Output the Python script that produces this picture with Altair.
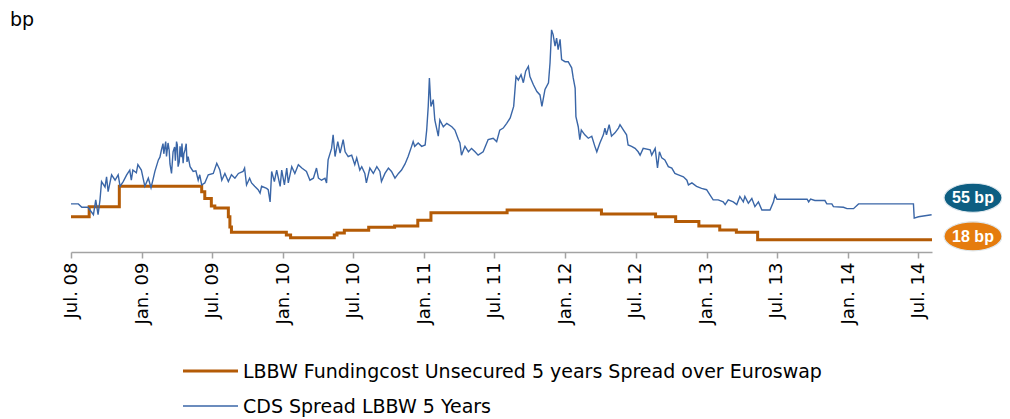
import altair as alt
import pandas as pd

# ---------------- data ----------------
cds_dates = [
    "2008-07-01", "2008-07-20", "2008-07-29", "2008-08-14", "2008-08-19", "2008-08-28", "2008-09-03", "2008-09-09",
    "2008-09-14", "2008-09-18", "2008-09-27", "2008-10-01", "2008-10-05", "2008-10-14", "2008-10-23", "2008-10-31",
    "2008-11-05", "2008-11-13", "2008-11-22", "2008-11-30", "2008-12-04", "2008-12-08", "2008-12-17", "2008-12-21",
    "2008-12-30", "2009-01-08", "2009-01-17", "2009-01-24", "2009-01-30", "2009-02-03", "2009-02-12", "2009-02-16",
    "2009-02-20", "2009-02-24", "2009-02-26", "2009-03-01", "2009-03-03", "2009-03-05", "2009-03-09", "2009-03-12",
    "2009-03-14", "2009-03-18", "2009-03-22", "2009-03-26", "2009-03-28", "2009-03-31", "2009-04-02", "2009-04-04",
    "2009-04-07", "2009-04-09", "2009-04-12", "2009-04-14", "2009-04-17", "2009-04-19", "2009-04-22", "2009-04-25",
    "2009-04-27", "2009-04-30", "2009-05-05", "2009-05-13", "2009-05-20", "2009-05-26", "2009-05-30",
    "2009-06-04", "2009-06-12", "2009-06-21", "2009-07-04", "2009-07-13", "2009-07-21", "2009-07-26", "2009-08-03",
    "2009-08-12", "2009-08-20", "2009-08-29", "2009-09-07", "2009-09-19", "2009-09-23", "2009-09-28", "2009-10-06",
    "2009-10-11", "2009-10-19", "2009-10-28", "2009-11-02", "2009-11-06", "2009-11-19", "2009-11-23", "2009-11-28",
    "2009-12-02", "2009-12-09", "2009-12-15", "2009-12-24", "2009-12-28", "2010-01-04", "2010-01-10", "2010-01-14",
    "2010-01-23", "2010-01-31", "2010-02-09", "2010-02-18", "2010-03-02", "2010-03-11", "2010-03-20", "2010-03-28",
    "2010-04-02", "2010-04-10", "2010-04-19", "2010-04-23", "2010-04-27", "2010-05-06", "2010-05-10", "2010-05-15",
    "2010-05-22", "2010-05-28", "2010-06-05", "2010-06-10", "2010-06-18", "2010-06-27", "2010-07-05", "2010-07-10",
    "2010-07-18", "2010-07-23", "2010-07-31", "2010-08-04", "2010-08-13", "2010-08-22", "2010-08-31", "2010-09-08",
    "2010-09-12", "2010-09-21", "2010-09-30", "2010-10-08", "2010-10-17", "2010-10-26", "2010-11-03", "2010-11-12",
    "2010-11-20", "2010-11-29", "2010-12-03", "2010-12-07", "2010-12-16", "2010-12-25", "2011-01-03", "2011-01-07",
    "2011-01-11", "2011-01-14", "2011-01-18", "2011-01-24", "2011-01-28", "2011-02-06", "2011-02-10", "2011-02-19",
    "2011-02-28", "2011-03-13", "2011-03-21", "2011-03-30", "2011-04-03", "2011-04-07", "2011-04-16", "2011-04-25",
    "2011-05-03", "2011-05-12", "2011-05-20", "2011-06-02", "2011-06-15", "2011-06-28", "2011-07-07", "2011-07-15",
    "2011-07-24", "2011-08-02", "2011-08-11", "2011-08-20", "2011-08-26", "2011-09-01", "2011-09-08", "2011-09-14",
    "2011-09-20", "2011-09-27", "2011-10-01", "2011-10-10", "2011-10-19", "2011-10-27", "2011-11-01", "2011-11-09",
    "2011-11-18", "2011-11-22", "2011-11-26", "2011-11-30", "2011-12-05", "2011-12-09", "2011-12-13", "2011-12-18",
    "2011-12-22", "2011-12-31", "2012-01-08", "2012-01-17", "2012-01-21", "2012-01-26", "2012-01-28", "2012-02-03",
    "2012-02-07", "2012-02-11", "2012-02-20", "2012-02-29", "2012-03-09", "2012-03-17", "2012-03-22", "2012-03-30",
    "2012-04-08", "2012-04-12", "2012-04-16", "2012-04-23", "2012-04-29", "2012-05-08", "2012-05-17", "2012-05-21",
    "2012-05-30", "2012-06-07", "2012-06-11", "2012-06-20", "2012-06-29", "2012-07-07", "2012-07-12", "2012-07-20",
    "2012-08-07", "2012-08-11", "2012-08-20", "2012-08-26", "2012-08-31", "2012-09-06", "2012-09-14", "2012-09-23",
    "2012-10-02", "2012-10-10", "2012-10-19", "2012-11-01", "2012-11-10", "2012-11-14", "2012-11-23", "2012-12-05",
    "2012-12-18", "2012-12-31", "2013-01-09", "2013-01-17", "2013-01-30", "2013-02-12", "2013-02-17", "2013-02-25",
    "2013-03-10", "2013-03-19", "2013-03-27", "2013-04-05", "2013-04-09", "2013-04-18", "2013-04-27", "2013-05-05",
    "2013-05-14", "2013-05-23", "2013-06-05", "2013-06-13", "2013-06-22", "2013-06-26", "2013-07-01", "2013-09-17",
    "2013-09-21", "2013-09-26", "2013-10-07", "2013-11-02", "2013-11-07", "2013-11-20", "2013-11-24", "2013-12-20",
    "2013-12-29", "2014-01-15", "2014-01-28", "2014-06-19", "2014-06-21", "2014-07-02", "2014-08-05",
]
cds_values = [
    71, 71, 66, 66, 62, 55, 77, 55,
    77, 104, 96, 111, 89, 114, 106, 114,
    97, 104, 114, 121, 106, 121, 117, 129,
    121, 97, 109, 95, 109, 119, 136, 140,
    151, 160, 145, 156, 163, 141, 161, 150,
    130, 116, 148, 155, 135, 163, 158, 126,
    133, 156, 140, 160, 131, 145, 151, 160,
    133, 141, 126, 119, 120, 106, 114,
    99, 102, 114, 116, 131, 121, 106, 116,
    104, 114, 109, 116, 119, 124, 99, 109,
    102, 97, 92, 87, 97, 94, 92, 74,
    119, 104, 121, 97, 121, 99, 124, 102,
    126, 116, 129, 124, 119, 106, 109, 124,
    109, 106, 109, 102, 136, 153, 173, 141,
    163, 146, 166, 148, 141, 143, 129, 139,
    121, 126, 116, 102, 124, 116, 126, 119,
    104, 116, 124, 119, 109, 116, 121, 130,
    141, 156, 163, 156, 161, 156, 158, 180,
    215, 257, 215, 225, 195, 171, 195, 185,
    190, 185, 180, 166, 161, 143, 156, 148,
    153, 148, 143, 148, 166, 168, 163, 180,
    183, 190, 198, 215, 259, 254, 262, 250,
    267, 274, 259, 247, 237, 232, 215, 240,
    250, 279, 328, 321, 304, 316, 299, 314,
    284, 281, 281, 272, 257, 242, 200, 185,
    166, 180, 173, 168, 171, 156, 148, 161,
    173, 183, 173, 188, 171, 176, 183, 188,
    180, 173, 158, 156, 153, 148, 143, 153,
    151, 143, 153, 124, 148, 139, 136, 126,
    124, 116, 114, 111, 106, 99, 102, 97,
    94, 92, 84, 77, 77, 74, 70, 77,
    74, 70, 82, 74, 82, 72, 79, 67,
    74, 62, 62, 62, 74, 84, 78, 78,
    74, 78, 76, 76, 71, 71, 67, 66,
    64, 64, 71, 71, 50, 52, 55,
]

fund_dates = [
    "2008-07-01", "2008-08-17", "2008-11-03", "2009-06-04", "2009-06-12", "2009-06-29", "2009-07-08",
    "2009-08-12", "2009-08-16", "2009-08-20", "2009-09-03", "2010-01-09", "2010-01-20", "2010-05-13",
    "2010-05-20", "2010-06-08", "2010-08-10", "2010-10-16", "2010-12-15", "2011-01-18", "2011-08-03",
    "2012-04-03", "2012-08-21", "2012-10-12", "2012-12-11", "2013-02-03", "2013-03-18", "2013-05-12",
    "2014-08-06",
]
fund_values = [52, 67, 97, 89, 79, 68, 65, 52, 37, 29, 29, 25, 21, 25,
               28, 32, 36.5, 38.5, 47, 58, 62, 56, 52, 45, 38.5, 32.5, 29, 18, 18]

tick_years_months = [(2008, 7), (2009, 1), (2009, 7), (2010, 1), (2010, 7), (2011, 1), (2011, 7),
                     (2012, 1), (2012, 7), (2013, 1), (2013, 7), (2014, 1), (2014, 7)]

end_texts = ["55 bp", "18 bp"]
end_values = [55, 18]
legend_names = ["LBBW Fundingcost Unsecured 5 years Spread over Euroswap", "CDS Spread LBBW 5 Years"]

# ---------------- styling ----------------
BLUE = "#3a66a7"
ORANGE = "#b45b06"
TEAL_LABEL = "#0d5e82"
ORANGE_LABEL = "#e57c0e"
AXIS_GREY = "#a3a3a3"
FONT = "DejaVu Sans"
ELLIPSE = "M-1,0A1,0.5,0,1,1,1,0A1,0.5,0,1,1,-1,0Z"

W, H = 861, 237

cds = pd.DataFrame({"date": cds_dates, "value": cds_values})
fund = pd.DataFrame({"date": fund_dates, "value": fund_values})

x_scale = alt.Scale(type="utc", nice=False,
                    domain=[alt.DateTime(year=2008, month=7, date=1, utc=True),
                            alt.DateTime(year=2014, month=8, date=6, utc=True)])
y_scale = alt.Scale(domain=[0, 350], nice=False, zero=True)

x_axis = alt.Axis(
    values=[alt.DateTime(year=y, month=m, date=1, utc=True) for y, m in tick_years_months],
    labelExpr="utcFormat(datum.value, '%b. %y')",
    labelAngle=270, labelAlign="right", labelBaseline="middle",
    labelFont=FONT, labelFontSize=18, labelColor="black", labelPadding=4,
    labelOverlap=False, labelFlush=False, labelBound=False,
    domainColor=AXIS_GREY, domainWidth=1.5, tickColor=AXIS_GREY, tickWidth=1.5, tickSize=6,
    grid=False, title=None,
)

fund_line = alt.Chart(fund).mark_line(interpolate="step-after", strokeWidth=3, color=ORANGE).encode(
    x=alt.X("date:T", scale=x_scale, axis=x_axis),
    y=alt.Y("value:Q", scale=y_scale, axis=None),
)
cds_line = alt.Chart(cds).mark_line(strokeWidth=1.4, color=BLUE).encode(
    x=alt.X("date:T", scale=x_scale, axis=x_axis),
    y=alt.Y("value:Q", scale=y_scale, axis=None),
)

# end-of-line value labels
label_layers = []
for txt, val, col, off in [(end_texts[0], end_values[0], TEAL_LABEL, -17),
                           (end_texts[1], end_values[1], ORANGE_LABEL, -3.5)]:
    d = pd.DataFrame({"value": [val], "text": [txt]})
    base = alt.Chart(d)
    label_layers.append(
        base.mark_point(shape=ELLIPSE, size=3364, filled=True, color=col, opacity=1,
                        stroke="#dfe8ee", strokeWidth=1.2, yOffset=off).encode(
            x=alt.value(902), y=alt.Y("value:Q", scale=y_scale, axis=None))
    )
    label_layers.append(
        base.mark_text(color="white", font="Liberation Sans", fontWeight="bold", fontSize=16,
                       align="center", baseline="middle", yOffset=off + 0.5).encode(
            x=alt.value(902), y=alt.Y("value:Q", scale=y_scale, axis=None), text="text:N")
    )

# unit label
bp_text = alt.Chart(pd.DataFrame({"t": ["bp"]})).mark_text(
    font=FONT, fontSize=19, color="black", align="left", baseline="top").encode(
    x=alt.value(-61), y=alt.value(-4), text="t:N")

# legend (drawn below the axis)
legend_layers = []
for i, (name, col, sw) in enumerate([(legend_names[0], ORANGE, 3), (legend_names[1], BLUE, 1.5)]):
    yy = 356 + i * 35
    d = pd.DataFrame({"name": [name]})
    legend_layers.append(
        alt.Chart(d).mark_rule(color=col, strokeWidth=sw).encode(
            x=alt.value(112), x2=alt.value(167), y=alt.value(yy))
    )
    legend_layers.append(
        alt.Chart(d).mark_text(font=FONT, fontSize=19, color="black", align="left", baseline="middle").encode(
            x=alt.value(172), y=alt.value(yy + 1), text="name:N")
    )

chart = alt.layer(fund_line, cds_line, *label_layers, bp_text, *legend_layers).properties(
    width=W, height=H,
    autosize=alt.AutoSizeParams(type="none"),
    padding={"left": 63, "top": 7, "right": 70, "bottom": 170},
).configure_view(strokeWidth=0)

chart.save("out.html", embed_options={"renderer": "svg", "actions": False})
